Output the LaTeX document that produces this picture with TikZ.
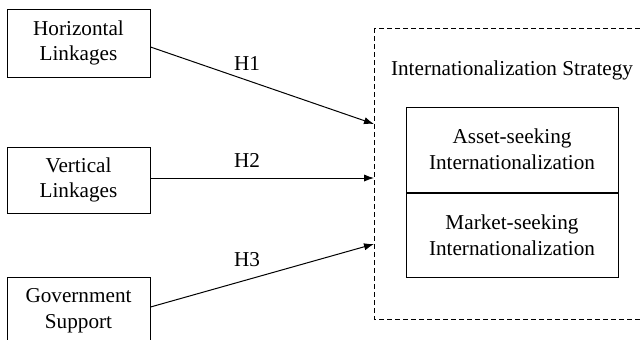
\documentclass[tikz,border=0pt]{standalone}
\usepackage{fontspec}
\setmainfont{Liberation Serif}
\usetikzlibrary{arrows.meta}

\tikzset{
  txt/.style={font=\fontsize{10.6}{12.9}\selectfont, align=center},
  factor/.style={txt, draw, line width=0.5pt, inner sep=0pt,
                 minimum width=71.5pt, minimum height=34pt},
  strategy/.style={txt, draw, line width=0.5pt, inner sep=0pt,
                   minimum width=106pt, minimum height=42.5pt},
  link/.style={line width=0.5pt, -{Latex[length=5pt,width=3.6pt]}}
}

\begin{document}
\begin{tikzpicture}[x=0.5pt, y=-0.5pt]
    \useasboundingbox (0,0) rectangle (640,339);

    % Antecedentes (caixas da esquerda)
    \node[factor] (horiz) at (78.5,43) {Horizontal\\Linkages};
    \node[factor, minimum height=33pt] (vert) at (78.5,180) {Vertical\\Linkages};
    \node[factor] (gov) at (78.5,311) {Government\\Support};

    % Caixa tracejada da estrategia
    \draw[dash pattern=on 2.5pt off 1.5pt, line width=0.5pt] (374,28) rectangle (660,319);
    \node[txt] (title) at (512,70) {Internationalization Strategy};

    % Os dois tipos de internacionalizacao
    \node[strategy] (asset) at (512,149.5) {Asset-seeking\\Internationalization};
    \node[strategy, minimum height=42pt, anchor=north] (market) at (asset.south) {Market-seeking\\Internationalization};

    % Pontas das setas na borda tracejada
    \coordinate (t1) at (374,124);
    \coordinate (t2) at (374,178);
    \coordinate (t3) at (374,244);

    % Hipoteses H1, H2, H3
    \draw[link] ([yshift=-2pt]horiz.east) -- (t1);
    \node[txt] (h1) at (247,63) {H1};

    \draw[link] ([yshift=1pt]vert.east) -- (t2);
    \node[txt] (h2) at (247,160) {H2};

    \draw[link] ([yshift=2pt]gov.east) -- (t3);
    \node[txt] (h3) at (247,260) {H3};

\end{tikzpicture}
\end{document}
